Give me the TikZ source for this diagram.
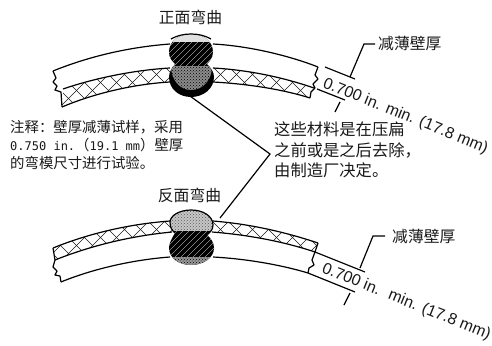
\documentclass[tikz,border=0pt]{standalone}
\usepackage{fontspec}
\setmainfont{Liberation Sans}
\newfontfamily\cjk{Noto Sans CJK SC}
\newfontfamily\monof{DejaVu Sans Mono}
\usetikzlibrary{patterns}
\definecolor{ink}{HTML}{1A1A1A}
\tikzset{
 edge/.style={draw=black,line width=1.2pt,line join=round},
 lead/.style={draw=black,line width=1.2pt},
 hatchl/.style={draw=ink,line width=.4pt},
 lbl/.style={text=ink,inner sep=0pt,font=\cjk\fontsize{15.8}{18}\selectfont},
 note/.style={text=ink,inner sep=0pt,align=left,anchor=north west,font=\cjk\fontsize{14.4}{18}\selectfont},
 dim/.style={text=ink,inner sep=0pt,anchor=base west,rotate=-22,font=\fontsize{16}{18}\selectfont},
}
\newcommand{\bandhatch}[2]{% y0,y1
 \foreach \k in {-60,-44,...,420}{
  \draw[hatchl] (\k,#1) -- ++(#2-#1,#2-#1);
  \draw[hatchl] (\k,#2) -- ++(#2-#1,#1-#2);
 }}
\begin{document}
\begin{tikzpicture}[x=1pt,y=-1pt]
\useasboundingbox (0,0) rectangle (492,345);
\fill[white] (0,0) rectangle (492,345);

%============ TOP SPECIMEN
\begin{scope}
\clip (63,89) .. controls (95,78) and (135,70) .. (170,68) -- (170,82) .. controls (135,84) and (95,93) .. (62,107) -- cycle
      (213,68) .. controls (250,70) and (285,78) .. (314,88) -- (310,98) .. controls (285,90) and (250,84) .. (213,82) -- cycle;
\bandhatch{50}{115}
\end{scope}
\draw[edge] (53,71) .. controls (90,56) and (130,47) .. (170,44);
\draw[edge] (213,44) .. controls (250,46) and (290,56) .. (318,67);
\draw[edge] (63,89) .. controls (95,78) and (135,70) .. (170,68);
\draw[edge] (213,68) .. controls (250,70) and (285,78) .. (314,88);
\draw[edge] (62,107) .. controls (95,93) and (135,84) .. (170,82);
\draw[edge] (213,82) .. controls (250,84) and (285,90) .. (310,98);
\draw[edge] (53,71) -- (56,78) -- (53,82) -- (57,86) -- (55,90) -- (61,92) -- (62,107);
\draw[edge] (318,67) -- (315,75) -- (318,79) -- (313,84) -- (315,88) -- (311,92) -- (310,98);
% weld
\begin{scope}
\def\weldtop{(169,52) .. controls (169,41) and (179,34) .. (191,34) .. controls (203,34) and (213,41) .. (213,52) .. controls (213,58) and (209,62) .. (207,64) .. controls (211,68) and (214,72) .. (214,77) .. controls (214,89) and (203,97) .. (191,97) .. controls (179,97) and (169,89) .. (169,77) .. controls (169,72) and (172,68) .. (175,64) .. controls (172,61) and (169,58) .. (169,52) -- cycle}
\fill[black] \weldtop;
\clip \weldtop;
\fill[black!12] (160,30) rectangle (220,42.5);
\foreach \k in {150,156,...,220}{\draw[white,line width=.3pt] (\k,66) -- ++(24,-24);}
\fill[black!45] (171,66) .. controls (171,80) and (180,90) .. (191,90) .. controls (203,90) and (212,80) .. (212,66) -- cycle;
\fill[pattern=crosshatch dots,pattern color=black] (171,66) .. controls (171,80) and (180,90) .. (191,90) .. controls (203,90) and (212,80) .. (212,66) -- cycle;
\end{scope}
\draw[edge] (171,39) .. controls (177,35.5) and (184,34) .. (191,34) .. controls (198,34) and (205,35.5) .. (211,39);

%============ BOTTOM SPECIMEN
\begin{scope}
\clip (53,248) .. controls (90,233) and (130,224) .. (170,221) -- (172,232) .. controls (130,236) and (90,246) .. (55,260) -- cycle
      (213,221) .. controls (250,224) and (285,232) .. (318,243) -- (315,252) .. controls (285,242) and (250,235) .. (212,232) -- cycle;
\bandhatch{205}{270}
\end{scope}
\draw[edge] (53,248) .. controls (90,233) and (130,224) .. (170,221);
\draw[edge] (213,221) .. controls (250,224) and (285,232) .. (318,243);
\draw[edge] (55,260) .. controls (90,246) and (130,236) .. (172,232);
\draw[edge] (212,232) .. controls (250,235) and (285,242) .. (315,252);
\draw[edge] (61,282) .. controls (90,270) and (130,260) .. (170,257);
\draw[edge] (213,257) .. controls (250,259) and (285,266) .. (308,273);
\draw[edge] (53,248) -- (55,260) -- (53,267) -- (57,271) -- (55,275) -- (60,276) -- (61,282);
\draw[edge] (318,243) -- (315,252) -- (312,260) -- (314,265) -- (309,268) -- (308,273);
% weld
\begin{scope}
\def\weldbot{(170,222) .. controls (170,216) and (179,210) .. (191,210) .. controls (203,210) and (213,216) .. (213,225) .. controls (213,230) and (210,232) .. (207,235) .. controls (211,238) and (214,243) .. (214,248) .. controls (214,258) and (203,265) .. (191,265) .. controls (179,265) and (169,258) .. (169,248) .. controls (169,243) and (172,238) .. (175,233) .. controls (172,230) and (170,228) .. (170,222) -- cycle}
\fill[black] \weldbot;
\clip \weldbot;
\fill[black!22] (160,205) rectangle (220,230.5);
\fill[pattern=crosshatch dots,pattern color=black!65] (160,205) rectangle (220,230.5);
\foreach \k in {150,156,...,220}{\draw[white,line width=.3pt] (\k,258) -- ++(27,-27);}
\fill[black!40] (160,257) rectangle (220,270);
\fill[pattern=crosshatch dots,pattern color=black] (160,257) rectangle (220,270);
\end{scope}
\draw[edge] (175,233) .. controls (172,230) and (170,228) .. (170,222) .. controls (170,216) and (179,210) .. (191,210) .. controls (203,210) and (213,216) .. (213,225) .. controls (213,230) and (210,232) .. (207,235);

%============ LEADERS
\coordinate (meet) at (270,154);
\coordinate (wt) at (172,83);
\coordinate (wb) at (220,218);
\draw[lead] (wt) -- (meet) -- (wb);

% dimension ticks top
\coordinate (t1a) at (325,67); \coordinate (t1b) at (355,79);
\coordinate (t2a) at (317,89); \coordinate (t2b) at (345,100);
\coordinate (d1) at (350,77); \coordinate (d2) at (364,44); \coordinate (d3) at (375,44);
\coordinate (d4) at (340,102); \coordinate (d5) at (335,112);
\draw[lead] (t1a) -- (t1b);
\draw[lead] (t2a) -- (t2b);
\draw[lead] (d1) -- (d2) -- (d3);
\draw[lead] (d4) -- (d5);

% dimension ticks bottom
\coordinate (b1a) at (315,252); \coordinate (b1b) at (365,272);
\coordinate (b2a) at (308,273); \coordinate (b2b) at (355,292);
\coordinate (e1) at (360,268); \coordinate (e2) at (373,236); \coordinate (e3) at (385,236);
\coordinate (e4) at (350,293); \coordinate (e5) at (344,305);
\draw[lead] (b1a) -- (b1b);
\draw[lead] (b2a) -- (b2b);
\draw[lead] (e1) -- (e2) -- (e3);
\draw[lead] (e4) -- (e5);

%============ TEXT
\node[lbl] (t1) at (190.5,17) {正面弯曲};
\node[lbl] (t2) at (189.5,195) {反面弯曲};
\node[lbl,anchor=west] (t3) at (378,43) {减薄壁厚};
\node[lbl,anchor=west] (t4) at (392,236) {减薄壁厚};
\node[note] (n1) at (10,120) {注释：壁厚减薄试样，采用\\[0pt]{\monof\fontsize{12}{18}\selectfont 0.750 in.}（{\monof\fontsize{12}{18}\selectfont 19.1 mm}）壁厚\\的弯模尺寸进行试验。};
\node[note,font=\cjk\fontsize{16.3}{20.3}\selectfont] (n2) at (274,122) {这些材料是在压扁\\之前或是之后去除，\\由制造厂决定。};
\node[dim] (v1) at (322,87) {0.700 in. min. (17.8 mm)};
\node[dim] (v2) at (321,272) {0.700 in.\hspace{4pt} min. (17.8 mm)};
\end{tikzpicture}
\end{document}
